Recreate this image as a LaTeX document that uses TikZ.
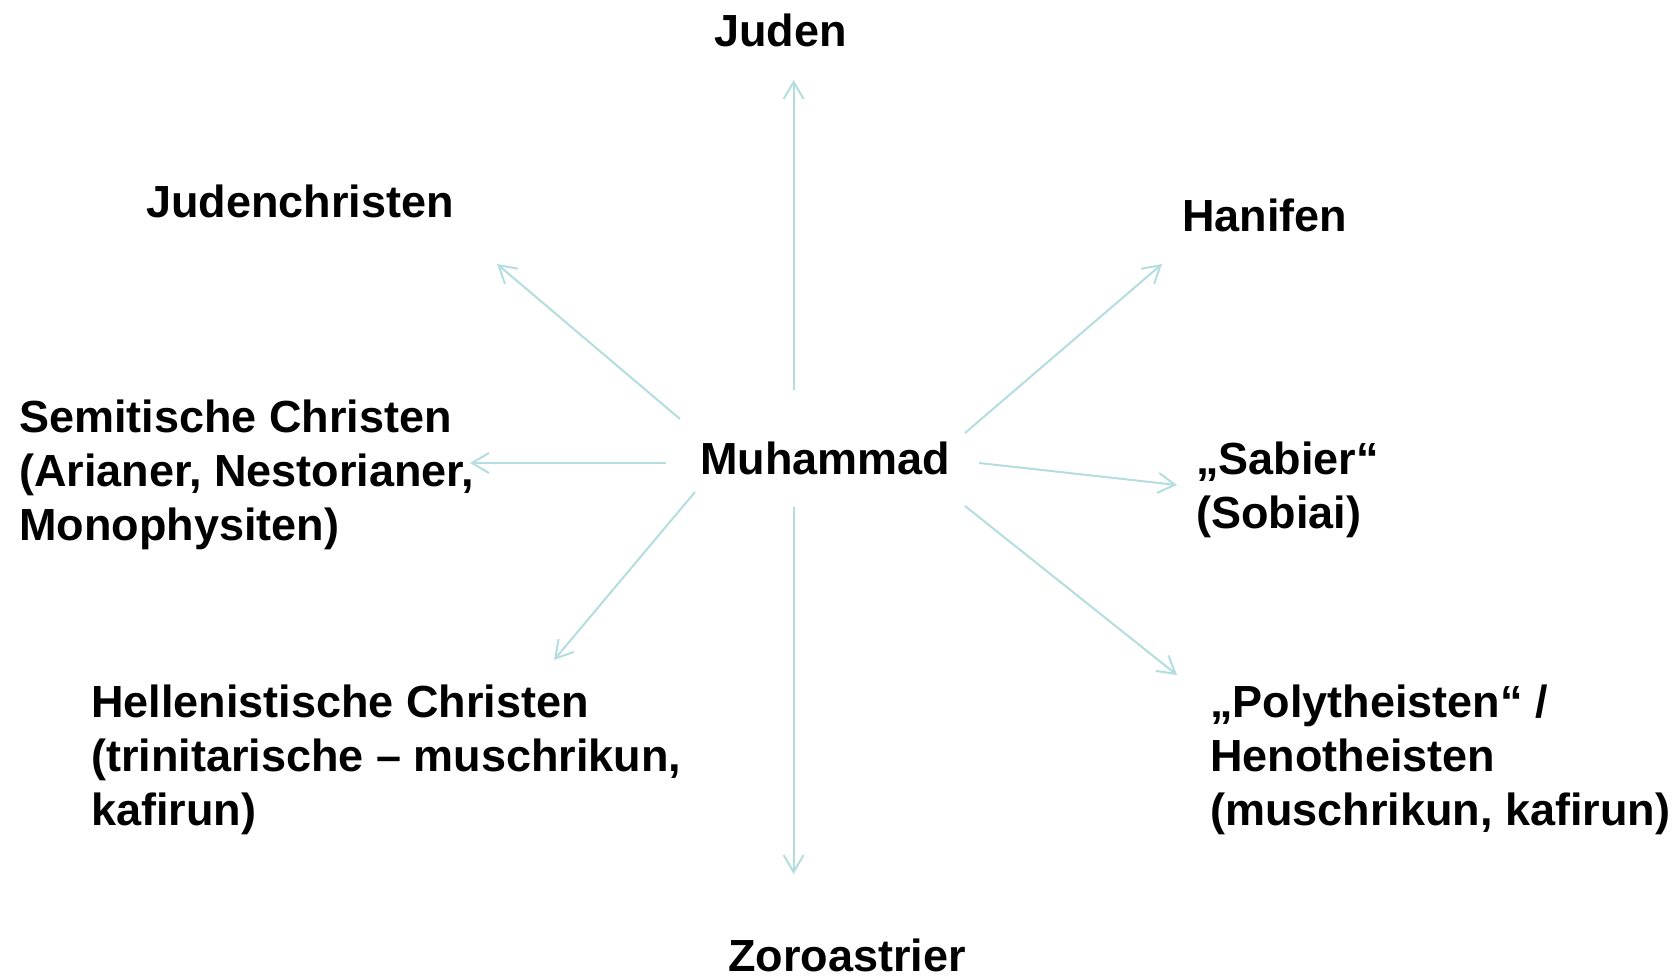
\documentclass[tikz,border=0pt]{standalone}
\usepackage{fontspec}
\setmainfont{Liberation Sans}
\usetikzlibrary{arrows.meta}
\definecolor{arrowc}{HTML}{B4DDE0}
\tikzset{
  lbl/.style={font=\bfseries\fontsize{45}{54}\selectfont, inner sep=0pt, align=left, anchor=base west},
  conn/.style={draw=arrowc, line width=2pt, -{Straight Barb[length=17pt,width=20pt,line width=2pt]}}
}
\begin{document}
\begin{tikzpicture}[x=1pt,y=-1pt]
\useasboundingbox (0,0) rectangle (1677,976);
% labels (base anchor = baseline of last line)
\node[lbl] (juden) at (714,47) {Juden};
\node[lbl] (judchr) at (146,218) {Judenchristen};
\node[lbl] (hanif) at (1182,232) {Hanifen};
\node[lbl] (semit) at (19,540) {Semitische Christen\\(Arianer, Nestorianer,\\Monophysiten)};
\node[lbl] (muh) at (700,474) {Muhammad};
\node[lbl] (sab) at (1196,528) {„Sabier“\\(Sobiai)};
\node[lbl] (hell) at (91,825) {Hellenistische Christen\\(trinitarische – muschrikun,\\kafirun)};
\node[lbl] (poly) at (1210,825) {„Polytheisten“ /\\Henotheisten\\(muschrikun, kafirun)};
\node[lbl] (zoro) at (728,971) {Zoroastrier};
% arrow endpoints
\coordinate (sU) at (793.6,390);   \coordinate (eU) at (793.6,80);
\coordinate (sD) at (793.6,507);   \coordinate (eD) at (793.6,874);
\coordinate (sUL) at (680,419);    \coordinate (eUL) at (497,264);
\coordinate (sL) at (666,463);     \coordinate (eL) at (470,463);
\coordinate (sDL) at (695,492);    \coordinate (eDL) at (554,660);
\coordinate (sUR) at (965,433);    \coordinate (eUR) at (1162,264);
\coordinate (sR) at (979,463);     \coordinate (eR) at (1177,485);
\coordinate (sDR) at (965,506);    \coordinate (eDR) at (1177,675);
\draw[conn] (sU) -- (eU);
\draw[conn] (sD) -- (eD);
\draw[conn] (sUL) -- (eUL);
\draw[conn] (sL) -- (eL);
\draw[conn] (sDL) -- (eDL);
\draw[conn] (sUR) -- (eUR);
\draw[conn] (sR) -- (eR);
\draw[conn] (sDR) -- (eDR);
\end{tikzpicture}
\end{document}
